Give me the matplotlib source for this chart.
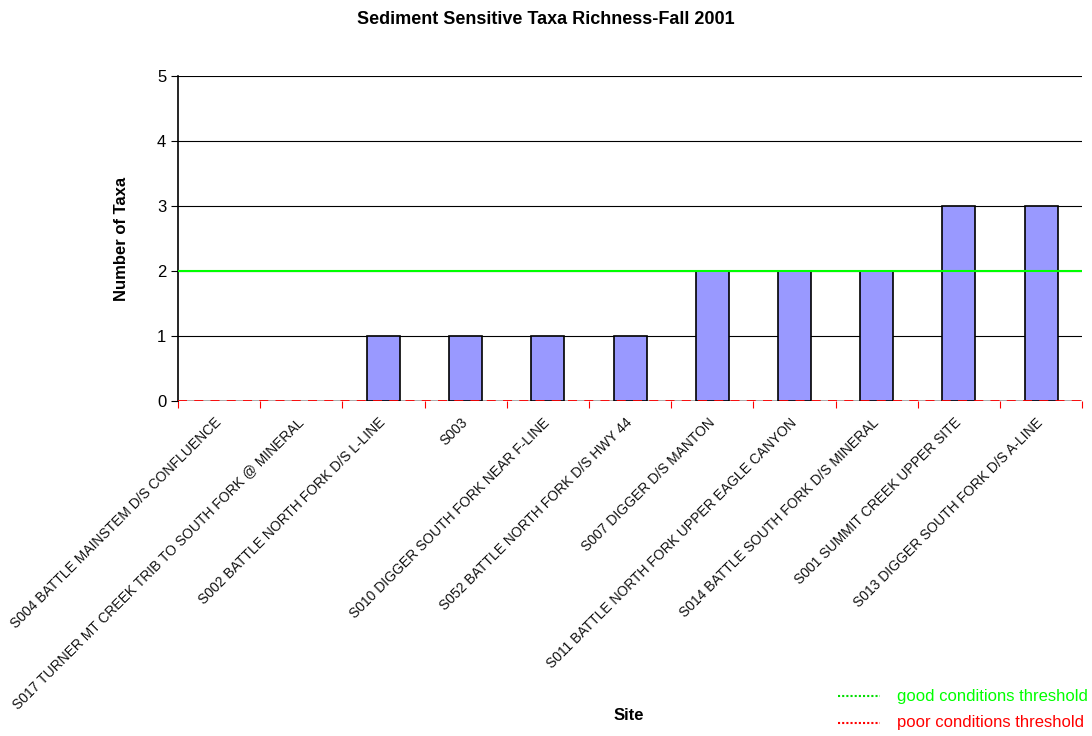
import numpy as np
import matplotlib.pyplot as plt

plt.rcParams['font.family'] = ['Liberation Sans', 'DejaVu Sans']

sites = [
    "S004 BATTLE MAINSTEM D/S CONFLUENCE",
    "S017 TURNER MT CREEK TRIB TO SOUTH FORK @ MINERAL",
    "S002 BATTLE NORTH FORK D/S L-LINE",
    "S003",
    "S010 DIGGER SOUTH FORK NEAR F-LINE",
    "S052 BATTLE NORTH FORK D/S HWY 44",
    "S007 DIGGER D/S MANTON",
    "S011 BATTLE NORTH FORK UPPER EAGLE CANYON",
    "S014 BATTLE SOUTH FORK D/S MINERAL",
    "S001 SUMMIT CREEK UPPER SITE",
    "S013 DIGGER SOUTH FORK D/S A-LINE",
]
taxa = [0, 0, 1, 1, 1, 1, 2, 2, 2, 3, 3]
good_threshold = 2
poor_threshold = 0

fig = plt.figure(figsize=(10.92, 7.36), dpi=100)
ax = fig.add_axes([0.163, 0.455, 0.828, 0.442])

x = np.arange(len(sites))
bars = ax.bar(x, taxa, width=0.4, color='#9999FF', edgecolor='black', linewidth=1.2, zorder=3)
for b, v in zip(bars, taxa):
    if v == 0:
        b.set_linewidth(0)

ax.axhline(good_threshold, color='#00FF00', linewidth=1.5, zorder=4)
ax.axhline(poor_threshold, color='#999999', linewidth=1.8, zorder=2)
ax.axhline(poor_threshold, color='#FF0000', linewidth=1.3, linestyle=(0, (5, 4)), zorder=4)

ax.set_xlim(-0.5, len(sites) - 0.5)
ax.set_ylim(0, 5)
ax.set_yticks(range(6))
ax.yaxis.grid(True, color='black', linewidth=0.8)
ax.set_axisbelow(True)

# ticks sit between categories, labels at the category centres
ax.set_xticks(np.arange(len(sites) + 1) - 0.5)
ax.set_xticklabels([])
ax.set_xticks(x, minor=True)
ax.set_xticklabels(sites, minor=True, rotation=45, ha='right', va='center',
                   rotation_mode='anchor', fontsize=10, color='#111111')
ax.tick_params(axis='x', which='minor', length=0, pad=14)
ax.tick_params(axis='x', which='major', length=5, color='#FF0000')
ax.tick_params(axis='y', labelsize=12, length=5)

for side in ['top', 'right', 'bottom']:
    ax.spines[side].set_visible(False)
ax.spines['left'].set_linewidth(1.2)

ax.set_ylabel("Number of Taxa", fontsize=12, fontweight='bold', labelpad=20)
fig.text(0.576, 0.018, "Site", fontsize=12, fontweight='bold', ha='center', va='bottom')
fig.suptitle("Sediment Sensitive Taxa Richness-Fall 2001", fontsize=13,
             fontweight='bold', x=0.5, y=0.985)

# threshold legend in the lower right corner
fig.add_artist(plt.Line2D([0.767, 0.806], [0.054, 0.054], color='#00DD00',
                          linestyle=(0, (1, 1)), linewidth=1.5))
fig.text(0.821, 0.054, "good conditions threshold", color='#00FF00',
         fontsize=12, va='center')
fig.add_artist(plt.Line2D([0.767, 0.806], [0.018, 0.018], color='#FF0000',
                          linestyle=(0, (1, 1)), linewidth=1.5))
fig.text(0.821, 0.018, "poor conditions threshold", color='#FF0000',
         fontsize=12, va='center')

fig.savefig("out.png", dpi=100)
